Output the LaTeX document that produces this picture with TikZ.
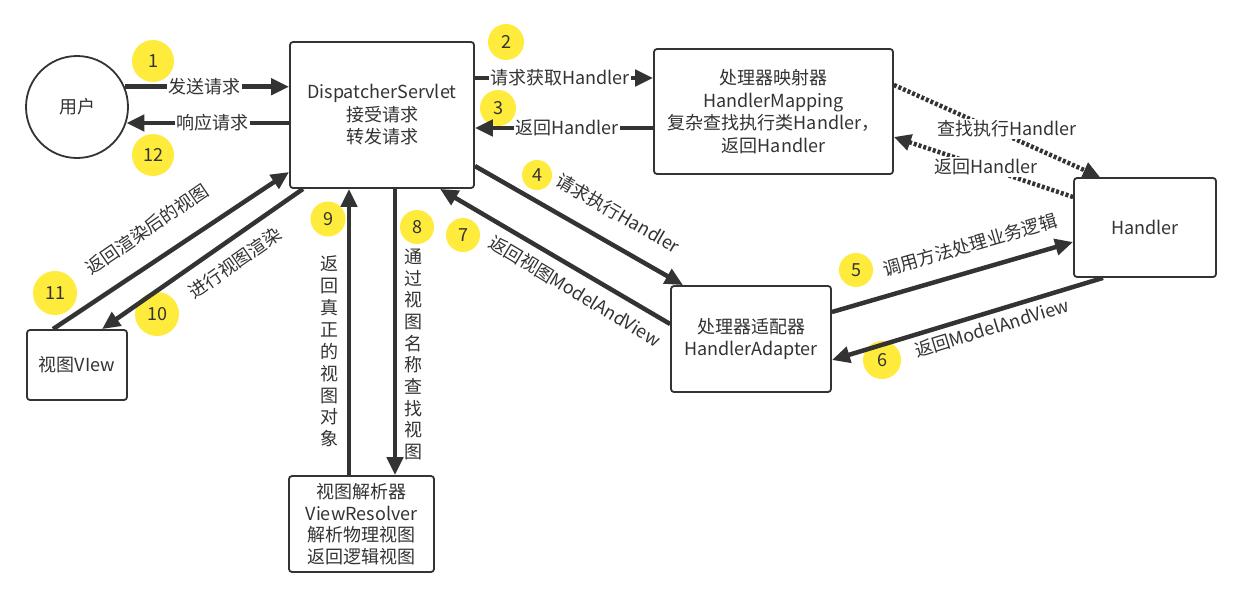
\documentclass[tikz,border=0pt]{standalone}
\usepackage{fontspec}
\setmainfont{Noto Sans CJK SC}
\usetikzlibrary{arrows.meta}
\definecolor{ink}{HTML}{333333}
\definecolor{badge}{HTML}{FFEB3B}
\begin{document}
\begin{tikzpicture}[x=1pt,y=-1pt,
  every node/.style={text=ink, font=\fontsize{18}{22.5}\selectfont},
  box/.style={draw=ink, line width=1.8pt, rounded corners=3pt, fill=white, align=center, inner sep=0pt},
  arr/.style={draw=ink, line width=4.5pt, -{Triangle[length=18pt,width=16pt]}},
  dotarr/.style={draw=ink, line width=4.5pt, dash pattern=on 3pt off 2pt, -{Triangle[length=17pt,width=16pt]}},
  lbl/.style={fill=white, inner sep=1.5pt},
  slbl/.style={inner sep=0pt},
  num/.style={circle, fill=badge, inner sep=0pt, minimum size=#1},
  vlbl/.style={align=center, inner sep=0pt, font=\fontsize{18}{#1}\selectfont},
]
\fill[white] (0,0) rectangle (1241,597);
\useasboundingbox (0,0) rectangle (1241,597);

% boxes
\node[box, circle, minimum size=102pt] (user) at (77,107) {用户};
\node[box, minimum width=184pt, minimum height=146pt] (ds) at (382,115) {DispatcherServlet\\接受请求\\转发请求};
\node[box, minimum width=239pt, minimum height=125pt] (hm) at (773.5,111.5) {处理器映射器\\HandlerMapping\\复杂查找执行类Handler，\\返回Handler};
\node[box, minimum width=142pt, minimum height=99pt] (handler) at (1145,227.5) {Handler};
\node[box, minimum width=160pt, minimum height=106pt] (ha) at (751,339) {处理器适配器\\HandlerAdapter};
\node[box, minimum width=145pt, minimum height=96pt, font=\fontsize{18}{21.5}\selectfont] (vr) at (361.5,524) {视图解析器\\ViewResolver\\解析物理视图\\返回逻辑视图};
\node[box, minimum width=100pt, minimum height=70pt] (view) at (77,365) {视图VIew};

% badges
\node[num=42pt] (n1) at (153,61) {1};
\node[num=42pt] (n12) at (153,155) {12};
\node[num=36pt] (n2) at (506,42) {2};
\node[num=36pt] (n3) at (498,108) {3};
\node[num=30pt] (n4) at (537,175) {4};
\node[num=34pt] (n5) at (856,270) {5};
\node[num=38pt] (n6) at (882,360) {6};
\node[num=34pt] (n7) at (463,235) {7};
\node[num=34pt] (n8) at (417,227) {8};
\node[num=35pt] (n9) at (328,219) {9};
\node[num=44pt] (n10) at (157,314) {10};
\node[num=44pt] (n11) at (55,293) {11};

% connectors
\draw[arr] (user.23) -- (user.23 -| ds.west);
\node[lbl] (l1) at (204,87) {发送请求};
\draw[arr] (user.-18 -| ds.west) -- (user.-18);
\node[lbl] (l12) at (212,123) {响应请求};

\draw[arr] (ds.east |- 0,78) -- (hm.west |- 0,78);
\node[lbl] (l2) at (560,78) {请求获取Handler};
\draw[arr] (hm.west |- 0,128) -- (ds.east |- 0,128);
\node[lbl] (l3) at (567,128) {返回Handler};

\draw[dotarr] (hm.east |- 0,85) -- (handler.north -| 1100,0);
\node[lbl] (lq) at (1007,129) {查找执行Handler};
\draw[dotarr] (handler.west |- 0,197) -- (hm.east |- 0,137);
\node[lbl] (lr) at (986,167) {返回Handler};

\draw[arr] (ds.east |- 0,166) -- (ha.north -| 683,0);
\node[slbl, rotate=-30] (l4) at (618,213) {请求执行Handler};
\draw[arr] (ha.west |- 0,324) -- (ds.south -| 440,0);
\node[slbl, rotate=-31] (l7) at (575,291) {返回视图ModelAndView};

\draw[arr] (ha.east |- 0,312) -- (handler.west |- 0,242);
\node[slbl, rotate=16] (l5) at (970,245) {调用方法处理业务逻辑};
\draw[arr] (handler.south -| 1103,0) -- (ha.east |- 0,360);
\node[slbl, rotate=17] (l6) at (992,328) {返回ModelAndView};

\draw[arr] (view.north -| 53,0) -- (ds.west |- 0,172);
\node[slbl, rotate=34.5] (l11) at (147,229) {返回渲染后的视图};
\draw[arr] (ds.south -| 303,0) -- (view.north -| 102,0);
\node[slbl, rotate=35] (l10) at (235,263) {进行视图渲染};

\draw[arr] (vr.north -| 349,0) -- (ds.south -| 349,0);
\node[vlbl=21.9pt] (l9) at (329,351.5) {返\\回\\真\\正\\的\\视\\图\\对\\象};
\draw[arr] (ds.south -| 395,0) -- (vr.north -| 395,0);
\node[vlbl=21.7pt] (l8) at (413,354.5) {通\\过\\视\\图\\名\\称\\查\\找\\视\\图};
\end{tikzpicture}
\end{document}
